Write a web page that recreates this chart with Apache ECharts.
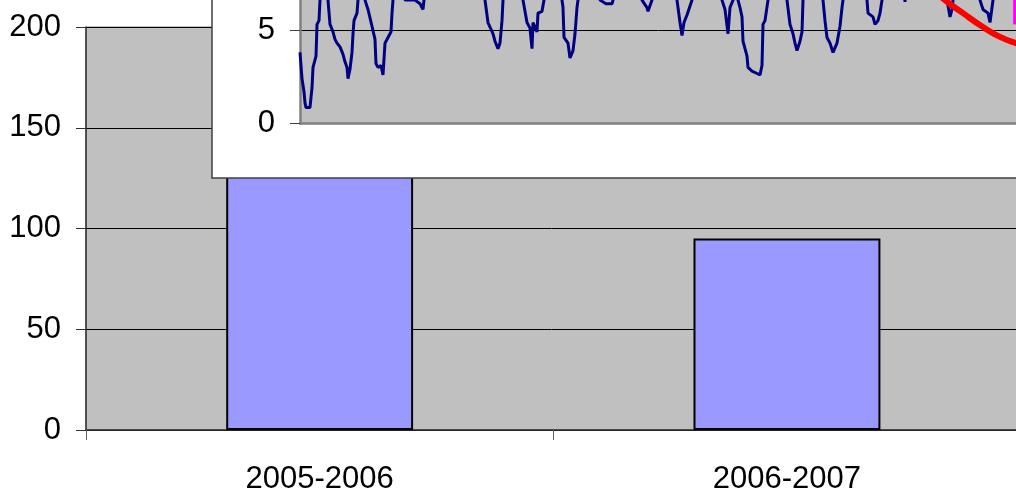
<!DOCTYPE html>
<html>
<head>
<meta charset="utf-8">
<script src="https://cdn.jsdelivr.net/npm/echarts@6/dist/echarts.min.js"></script>
<style>
  html, body { margin: 0; padding: 0; background: #fff; }
  #chart { width: 1016px; height: 496px; }
</style>
</head>
<body>
<div id="chart"></div>
<script>
// main bar chart
const seasons = ['2005-2006', '2006-2007'];
const seasonTotals = [175, 95];
const mainTicks = [0, 50, 100, 150, 200];

// inset: daily level [day, value], peaks above the visible window are hidden
const dailyLevel = [
  [0, 3.8], [2, 2.4], [4, 1.7], [5, 1.1], [6, 0.85], [10, 0.85], [11, 1.4], [12, 1.9], [13, 3.0], [16, 3.6],
  [17, 5.3], [19, 5.5], [20, 6.6], [22, 8], [26, 8], [28, 6.6], [30, 5.3], [33, 4.9], [35, 4.5], [37, 4.3],
  [40, 4.1], [43, 3.7], [45, 3.3], [47, 3.0], [48, 2.4], [50, 2.9], [52, 3.8], [53, 4.8], [54, 5.5], [57, 5.9],
  [58, 6.6], [61, 8], [63, 8], [65, 6.6], [68, 6.1], [72, 5.2], [75, 4.5], [76, 3.2], [78, 3.0], [81, 3.1],
  [83, 2.6], [85, 4.3], [88, 4.6], [91, 4.9], [92, 5.9], [93, 6.6], [98, 8], [103, 8], [105, 6.6], [115, 6.6],
  [120, 6.4], [123, 6.1], [124, 6.6], [128, 8], [180, 8], [185, 6.6], [188, 5.4], [193, 4.8], [195, 4.4], [198, 4.0],
  [200, 4.3], [202, 5.5], [203, 6.6], [208, 8], [218, 8], [223, 6.6], [227, 5.4], [230, 5.1], [232, 4.0], [233, 5.4],
  [237, 4.9], [238, 5.9], [242, 6.0], [244, 6.6], [248, 8], [258, 8], [262, 6.6], [263, 6.2], [264, 4.6], [268, 4.3],
  [270, 3.5], [273, 3.9], [275, 4.8], [277, 6.2], [278, 6.6], [283, 8], [295, 8], [300, 6.6], [306, 6.4], [312, 6.4],
  [313, 6.6], [318, 8], [338, 8], [342, 6.6], [347, 6.2], [348, 6.0], [352, 6.6], [356, 8], [373, 8], [377, 6.6],
  [380, 5.4], [382, 4.7], [384, 5.4], [387, 5.8], [392, 6.6], [396, 8], [418, 8], [422, 6.6], [425, 6.1], [428, 4.8],
  [430, 6.2], [433, 6.6], [436, 7], [438, 6.6], [440, 6.2], [442, 5.7], [443, 4.4], [447, 3.6], [448, 3.0], [452, 2.8],
  [456, 2.7], [460, 2.6], [462, 3.1], [463, 5.3], [465, 5.5], [468, 6.6], [472, 8], [484, 8], [487, 6.6], [490, 5.3],
  [493, 4.8], [495, 4.3], [497, 3.9], [500, 4.4], [502, 4.9], [503, 6.6], [507, 8], [519, 8], [523, 6.6], [525, 5.5],
  [527, 4.6], [530, 4.3], [533, 3.8], [537, 4.3], [540, 5.2], [542, 6.2], [543, 6.6], [547, 8], [563, 8], [567, 6.6],
  [568, 5.9], [573, 5.7], [575, 5.3], [578, 5.5], [580, 5.9], [582, 6.6], [586, 8], [603, 8], [605, 6.5], [607, 8],
  [643, 8], [647, 6.6], [650, 5.7], [652, 6.1], [653, 6.6], [657, 8], [676, 8], [680, 6.6], [683, 6.1], [688, 5.9],
  [690, 5.4], [692, 6.2], [693, 6.6], [697, 8], [720, 8]
];
// red ring drawn on the inset
const ringArc = [[630, 7.3], [645, 6.6], [663, 5.9], [683, 5.16], [700, 4.63], [716, 4.3], [735, 4.0]];
// magenta marker at the right edge
const markerEdge = [[714.6, 8], [714.6, 5.3]];
const insetTicks = [0, 5, 10];

const font = '"Liberation Sans", Arial, sans-serif';
const myChart = echarts.init(document.getElementById('chart'));

myChart.setOption({
  animation: false,
  grid: [
    {
      left: 86, top: 27, width: 934.6, height: 403, outerBoundsMode: 'none',
      show: true, backgroundColor: '#c0c0c0', borderColor: '#808080', borderWidth: 1,
    },
    {
      // white frame of the inset
      left: 212, top: -100, width: 900, height: 278, z: 10, outerBoundsMode: 'none',
      show: true, backgroundColor: '#ffffff', borderColor: '#404040', borderWidth: 1.5,
    },
    {
      left: 300, top: -63.5, width: 720, height: 187, z: 11, outerBoundsMode: 'none',
      show: true, backgroundColor: '#c0c0c0', borderWidth: 0,
    },
  ],
  xAxis: [
    {
      type: 'category',
      gridIndex: 0,
      data: seasons,
      axisLine: { lineStyle: { color: '#303030', width: 1.5 } },
      axisTick: { show: true, length: 10, lineStyle: { color: '#606060' } },
      axisLabel: { color: '#000', fontSize: 31, fontFamily: font, margin: 34 },
    },
    { type: 'value', gridIndex: 1, show: false },
    {
      type: 'value',
      gridIndex: 2,
      min: 0,
      max: 720,
      z: 12,
      axisLine: { show: true, lineStyle: { color: '#808080', width: 2.5 } },
      axisTick: { show: false },
      axisLabel: { show: false },
      splitLine: { show: false },
    },
  ],
  yAxis: [
    {
      type: 'value',
      gridIndex: 0,
      min: mainTicks[0],
      max: mainTicks[mainTicks.length - 1],
      interval: 50,
      axisLine: { show: true, lineStyle: { color: '#303030', width: 1.5 } },
      axisTick: { show: true, length: 10, lineStyle: { color: '#303030' } },
      axisLabel: { color: '#000', fontSize: 31, fontFamily: font, margin: 25 },
      splitLine: { lineStyle: { color: '#000', width: 1 } },
    },
    { type: 'value', gridIndex: 1, show: false },
    {
      type: 'value',
      gridIndex: 2,
      min: insetTicks[0],
      max: insetTicks[insetTicks.length - 1],
      interval: 5,
      z: 12,
      axisLine: { show: true, lineStyle: { color: '#808080', width: 2.5 } },
      axisTick: { show: true, length: 10, lineStyle: { color: '#404040' } },
      axisLabel: { color: '#000', fontSize: 31, fontFamily: font, margin: 25 },
      splitLine: { lineStyle: { color: '#000', width: 1 } },
    },
  ],
  series: [
    {
      type: 'bar',
      xAxisIndex: 0,
      yAxisIndex: 0,
      data: seasonTotals,
      barWidth: '40%',
      itemStyle: { color: '#9999ff', borderColor: '#000', borderWidth: 2 },
    },
    {
      type: 'line',
      xAxisIndex: 2,
      yAxisIndex: 2,
      z: 13,
      data: dailyLevel,
      showSymbol: false,
      lineStyle: { color: '#000080', width: 3 },
    },
    {
      type: 'line',
      xAxisIndex: 2,
      yAxisIndex: 2,
      z: 14,
      data: ringArc,
      smooth: true,
      showSymbol: false,
      lineStyle: { color: '#ff0000', width: 6 },
    },
    {
      type: 'line',
      xAxisIndex: 2,
      yAxisIndex: 2,
      z: 14,
      data: markerEdge,
      showSymbol: false,
      lineStyle: { color: '#ff00ff', width: 3 },
    },
  ],
});
</script>
</body>
</html>
